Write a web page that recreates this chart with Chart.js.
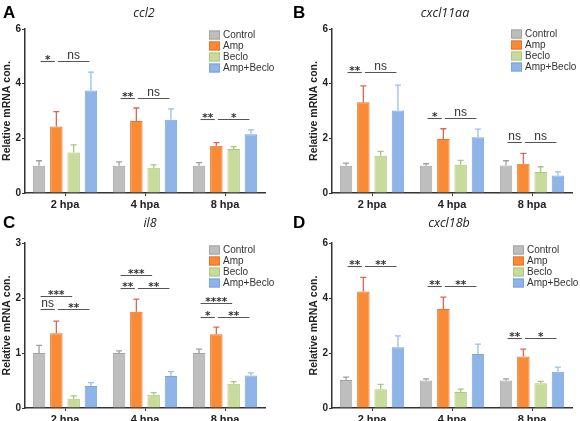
<!DOCTYPE html>
<html>
<head>
<meta charset="utf-8">
<script src="https://cdn.jsdelivr.net/npm/chart.js@4.4.0/dist/chart.umd.min.js"></script>
<style>
  body { margin: 0; background: #fff; }
  #wrap { position: relative; width: 580px; height: 421px; overflow: hidden; background: #fff; }
  canvas { position: absolute; }
</style>
</head>
<body>
<div id="wrap">
  <canvas id="pA" width="290" height="210" style="left:0;top:0"></canvas>
  <canvas id="pB" width="290" height="210" style="left:290px;top:0"></canvas>
  <canvas id="pC" width="290" height="211" style="left:0;top:210px"></canvas>
  <canvas id="pD" width="290" height="211" style="left:290px;top:210px"></canvas>
</div>
<script>
const timepoints = ['2 hpa', '4 hpa', '8 hpa'];
const groups = ['Control', 'Amp', 'Beclo', 'Amp+Beclo'];

// rows = groups, columns = timepoints
const ccl2Mean = [
  [1.00, 1.00, 1.00],
  [2.43, 2.63, 1.73],
  [1.48, 0.92, 1.61],
  [3.75, 2.68, 2.15]
];
const ccl2Err = [
  [0.18, 0.14, 0.11],
  [0.55, 0.48, 0.11],
  [0.28, 0.11, 0.09],
  [0.67, 0.40, 0.16]
];
// [timepoint, from group, to group, height, label]
const ccl2Sig = [
  [0, 0, 1, 4.82, '*'], [0, 1, 3, 4.82, 'ns'],
  [1, 0, 1, 3.47, '**'], [1, 1, 3, 3.47, 'ns'],
  [2, 0, 1, 2.71, '**'], [2, 1, 3, 2.71, '*']
];

const cxcl11aaMean = [
  [1.00, 1.00, 1.01],
  [3.32, 1.98, 1.07],
  [1.36, 1.03, 0.77],
  [3.02, 2.04, 0.64]
];
const cxcl11aaErr = [
  [0.09, 0.07, 0.17],
  [0.60, 0.37, 0.38],
  [0.16, 0.16, 0.19],
  [0.93, 0.30, 0.13]
];
const cxcl11aaSig = [
  [0, 0, 1, 4.42, '**'], [0, 1, 3, 4.42, 'ns'],
  [1, 0, 1, 2.75, '*'], [1, 1, 3, 2.75, 'ns'],
  [2, 0, 1, 1.86, 'ns'], [2, 1, 3, 1.86, 'ns']
];

const il8Mean = [
  [1.00, 1.00, 1.00],
  [1.36, 1.75, 1.34],
  [0.17, 0.24, 0.44],
  [0.40, 0.58, 0.59]
];
const il8Err = [
  [0.14, 0.04, 0.07],
  [0.22, 0.23, 0.13],
  [0.05, 0.04, 0.04],
  [0.06, 0.08, 0.05]
];
const il8Sig = [
  [0, 0, 2, 2.04, '***'], [0, 0, 1, 1.80, 'ns'], [0, 1, 3, 1.80, '**'],
  [1, 0, 2, 2.42, '***'], [1, 0, 1, 2.18, '**'], [1, 1, 3, 2.18, '**'],
  [2, 0, 2, 1.91, '****'], [2, 0, 1, 1.66, '*'], [2, 1, 3, 1.66, '**']
];

const cxcl18bMean = [
  [1.02, 1.00, 1.00],
  [4.24, 3.60, 1.87],
  [0.68, 0.58, 0.90],
  [2.21, 1.96, 1.32]
];
const cxcl18bErr = [
  [0.10, 0.06, 0.06],
  [0.51, 0.43, 0.27],
  [0.18, 0.11, 0.07],
  [0.41, 0.36, 0.17]
];
const cxcl18bSig = [
  [0, 0, 1, 5.15, '**'], [0, 1, 3, 5.15, '**'],
  [1, 0, 1, 4.45, '**'], [1, 1, 3, 4.45, '**'],
  [2, 0, 1, 2.55, '**'], [2, 1, 3, 2.55, '*']
];

const fills = ['#bebebe', '#fa8b36', '#c7db9b', '#8fb4e7'];
const edges = ['#a2a2a2', '#e8722e', '#afc682', '#7ba3dc'];
const errColors = ['#a0a0a0', '#e06454', '#a9c47c', '#9dbde8'];
const sans = '"Liberation Sans", Arial, sans-serif';

const panels = [
  { id: 'pA', letter: 'A', gene: 'ccl2', mean: ccl2Mean, err: ccl2Err, sig: ccl2Sig,
    yMax: 6, step: 2, padL: 0, padR: 25, padT: 29, xH: 17, geneX: 144, legX: 209, legY: 35 },
  { id: 'pB', letter: 'B', gene: 'cxcl11aa', mean: cxcl11aaMean, err: cxcl11aaErr, sig: cxcl11aaSig,
    yMax: 6, step: 2, padL: 17, padR: 8, padT: 29, xH: 17, geneX: 155, legX: 221, legY: 34 },
  { id: 'pC', letter: 'C', gene: 'il8', mean: il8Mean, err: il8Err, sig: il8Sig,
    yMax: 3, step: 1, padL: 0, padR: 25, padT: 33, xH: 13, geneX: 150, legX: 209, legY: 40 },
  { id: 'pD', letter: 'D', gene: 'cxcl18b', mean: cxcl18bMean, err: cxcl18bErr, sig: cxcl18bSig,
    yMax: 6, step: 2, padL: 17, padR: 8, padT: 33, xH: 13, geneX: 159, legX: 223, legY: 40 }
];

function makePanel(p) {
  const deco = {
    id: 'deco',
    afterDatasetsDraw(chart) {
      const ctx = chart.ctx;
      const ys = chart.scales.y;
      ctx.save();
      // error bars, upper half only
      chart.data.datasets.forEach((ds, i) => {
        chart.getDatasetMeta(i).data.forEach((bar, j) => {
          const top = ys.getPixelForValue(ds.data[j] + p.err[i][j]);
          ctx.strokeStyle = errColors[i];
          ctx.lineWidth = 1.3;
          ctx.beginPath();
          ctx.moveTo(bar.x, bar.y);
          ctx.lineTo(bar.x, top);
          ctx.moveTo(bar.x - 3, top);
          ctx.lineTo(bar.x + 3, top);
          ctx.stroke();
        });
      });
      // significance lines
      p.sig.forEach(([t, a, b, v, txt]) => {
        const x1 = chart.getDatasetMeta(a).data[t].x + 1.5;
        const x2 = chart.getDatasetMeta(b).data[t].x - 1.5;
        const yy = Math.round(ys.getPixelForValue(v)) + 0.5;
        ctx.strokeStyle = '#555';
        ctx.lineWidth = 1.1;
        ctx.beginPath();
        ctx.moveTo(x1, yy);
        ctx.lineTo(x2, yy);
        ctx.stroke();
        const star = txt.indexOf('*') >= 0;
        ctx.fillStyle = '#333';
        ctx.textAlign = 'center';
        ctx.textBaseline = 'alphabetic';
        ctx.font = star ? 'bold 10.5px "DejaVu Sans", sans-serif' : '12px ' + sans;
        ctx.fillText(txt, (x1 + x2) / 2, star ? yy + 1 : yy - 2.5);
      });
      ctx.restore();
    },
    afterDraw(chart) {
      const ctx = chart.ctx;
      ctx.save();
      ctx.fillStyle = '#000';
      ctx.textAlign = 'left';
      ctx.textBaseline = 'alphabetic';
      ctx.font = 'bold 17px ' + sans;
      ctx.fillText(p.letter, 3, 18);
      ctx.fillStyle = '#222';
      ctx.textAlign = 'center';
      ctx.font = 'italic 12.5px "Open Sans", sans-serif';
      ctx.fillText(p.gene, p.geneX, 17);
      // legend
      ctx.textAlign = 'left';
      ctx.textBaseline = 'middle';
      ctx.font = '10px ' + sans;
      chart.data.datasets.forEach((ds, i) => {
        const cy = p.legY + i * 11;
        ctx.fillStyle = ds.backgroundColor;
        ctx.fillRect(p.legX, cy - 4.5, 11, 9);
        ctx.strokeStyle = ds.borderColor;
        ctx.lineWidth = 1;
        ctx.strokeRect(p.legX + 0.5, cy - 4, 10, 8);
        ctx.fillStyle = '#333';
        ctx.fillText(ds.label, p.legX + 14, cy + 0.5);
      });
      ctx.restore();
    }
  };

  return new Chart(document.getElementById(p.id), {
    type: 'bar',
    data: {
      labels: timepoints,
      datasets: groups.map((g, i) => ({
        label: g,
        data: p.mean[i],
        backgroundColor: fills[i],
        borderColor: edges[i],
        borderWidth: 1,
        categoryPercentage: 0.865,
        barPercentage: 0.72
      }))
    },
    options: {
      responsive: false,
      animation: false,
      devicePixelRatio: 1,
      layout: { padding: { left: p.padL, right: p.padR, top: p.padT, bottom: 0 } },
      plugins: { legend: { display: false }, tooltip: { enabled: false } },
      scales: {
        x: {
          offset: true,
          afterFit(s) { s.height = p.xH; },
          border: { color: '#333', width: 1.5 },
          grid: { drawOnChartArea: false, offset: false, tickLength: 3, tickColor: '#333', tickWidth: 1 },
          ticks: { color: '#222', padding: 2, font: { family: sans, size: 11, weight: 'bold' }, maxRotation: 0 }
        },
        y: {
          min: 0,
          max: p.yMax,
          afterFit(s) { s.width = 25; },
          border: { color: '#333', width: 1.5 },
          grid: { drawOnChartArea: false, tickLength: 3, tickColor: '#333', tickWidth: 1 },
          ticks: { stepSize: p.step, color: '#222', padding: 1, font: { family: sans, size: 10, weight: 'bold' } },
          title: {
            display: true,
            text: 'Relative mRNA con.',
            color: '#222',
            padding: { top: 1, bottom: 0 },
            font: { family: sans, size: 10.5, weight: 'bold' }
          }
        }
      }
    },
    plugins: [deco]
  });
}

panels.forEach(makePanel);
</script>
</body>
</html>
